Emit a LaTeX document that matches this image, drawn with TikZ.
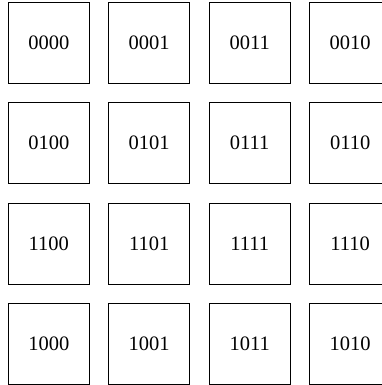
\documentclass[tikz,border=0pt]{standalone}
\usepackage{fontspec}
\setmainfont{Liberation Serif}
\usepackage{tikz}
\usetikzlibrary{positioning}

\begin{document}
\begin{tikzpicture}[
        x=1pt, y=1pt,
        cell/.style={draw, rectangle, minimum width=39.5pt, minimum height=39.5pt, inner sep=0pt, align=center}
        ]

        \useasboundingbox (0,0) rectangle (186.3,-187.8);

        % Gray code cells, row by row
        \foreach \code [count=\i from 0] in {0000,0001,0011,0010,0100,0101,0111,0110,1100,1101,1111,1110,1000,1001,1011,1010} {
            \pgfmathtruncatemacro{\row}{div(\i,4)}
            \pgfmathtruncatemacro{\col}{mod(\i,4)}
            \node[cell] (c\row\col) at (23.8+49*\col, -20.75-49*\row) {\code};
        }
    \end{tikzpicture}
\end{document}
